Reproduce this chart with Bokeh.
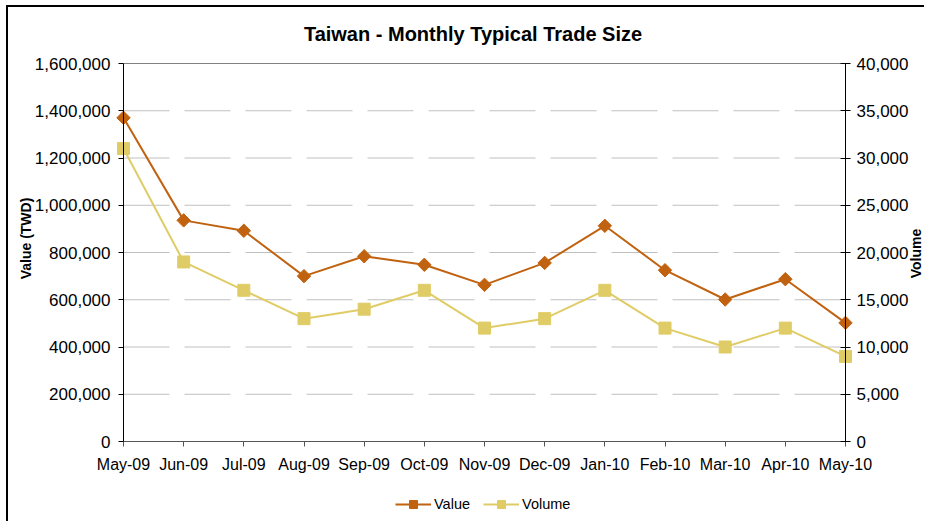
import numpy as np
from bokeh.plotting import figure
from bokeh.models import (Range1d, LinearAxis, FixedTicker, NumeralTickFormatter,
                          Legend, LegendItem, Label)
from bokeh.embed import file_html
from bokeh.resources import INLINE

months = ["May-09", "Jun-09", "Jul-09", "Aug-09", "Sep-09", "Oct-09", "Nov-09",
          "Dec-09", "Jan-10", "Feb-10", "Mar-10", "Apr-10", "May-10"]
value_twd = [1370000, 936000, 892000, 700000, 784000, 748000, 663000,
             756000, 913000, 725000, 601000, 687000, 502000]
volume = [31000, 19000, 16000, 13000, 14000, 16000, 12000,
          13000, 16000, 12000, 10000, 12000, 9000]
left_ticks = [0, 200000, 400000, 600000, 800000, 1000000, 1200000, 1400000, 1600000]
right_ticks = [0, 5000, 10000, 15000, 20000, 25000, 30000, 35000, 40000]
left_max = 1600000
right_max = 40000

x = list(range(len(months)))
VALUE_C = "#C0620F"
VOL_C = "#E0CC66"
FONT = "Liberation Sans"

# layout in canvas pixels (canvas is 918 x 516)
W, H = 918, 516
F_TOP, F_BOT = 5, 512            # frame edges
P_LEFT, P_RIGHT = 115, 837       # plot area left/right
P_TOP, P_ZERO = 56, 434          # plot area top (max) / bottom (zero)
ppy = (P_ZERO - P_TOP)
ppx = (P_RIGHT - P_LEFT) / (len(months) - 1)
y_lo = -(F_BOT - P_ZERO) / ppy
y_hi = 1 + (P_TOP - F_TOP) / ppy
x_lo = -P_LEFT / ppx
x_hi = (len(months) - 1) + (W - P_RIGHT) / ppx

p = figure(width=W, height=H, output_backend="svg", toolbar_location=None,
           x_range=Range1d(x_lo, x_hi),
           y_range=Range1d(left_max * y_lo, left_max * y_hi),
           min_border_left=0, min_border_right=0, min_border_top=F_TOP,
           min_border_bottom=H - F_BOT)
p.styles = {"margin-left": "6px", "margin-top": "5px",
            "border-left": "2px solid black", "border-top": "2px solid black"}
p.extra_y_ranges = {"vol": Range1d(right_max * y_lo, right_max * y_hi)}

p.outline_line_color = None
p.background_fill_color = "white"
p.border_fill_color = "white"
p.xgrid.visible = False
p.ygrid.visible = False

# dashed horizontal gridlines + solid top border of plot area
grid_y = left_ticks[1:-1]
p.segment(x0=[x[0]] * len(grid_y), x1=[x[-1]] * len(grid_y), y0=grid_y, y1=grid_y,
          line_color="#C0C0C0", line_width=1, line_dash="46 15")
p.segment(x0=[x[0]], x1=[x[-1]], y0=[left_max], y1=[left_max],
          line_color="#808080", line_width=1)

# x axis
xa = p.xaxis[0]
xa.fixed_location = 0
xa.bounds = (x[0], x[-1])
xa.ticker = FixedTicker(ticks=x)
xa.major_label_overrides = {i: m for i, m in enumerate(months)}
xa.major_label_text_font = FONT
xa.major_label_text_font_size = "16px"
xa.major_label_text_color = "black"
xa.axis_line_color = "#555555"
xa.major_tick_line_color = "#555555"
xa.major_tick_in = 0
xa.major_tick_out = 5
xa.minor_tick_line_color = None
xa.major_label_standoff = 9

# left axis
ya = p.yaxis[0]
ya.fixed_location = x[0]
ya.bounds = (0, left_max)
ya.ticker = FixedTicker(ticks=left_ticks)
ya.formatter = NumeralTickFormatter(format="0,0")
ya.major_label_text_font = FONT
ya.major_label_text_font_size = "17px"
ya.major_label_text_color = "black"
ya.axis_line_color = "black"
ya.major_tick_line_color = "black"
ya.major_tick_in = 0
ya.major_tick_out = 5
ya.minor_tick_line_color = None
ya.major_label_standoff = 8

# right axis
ra = LinearAxis(y_range_name="vol", ticker=FixedTicker(ticks=right_ticks),
                formatter=NumeralTickFormatter(format="0,0"),
                bounds=(0, right_max), fixed_location=x[-1])
ra.major_label_text_font = FONT
ra.major_label_text_font_size = "17px"
ra.major_label_text_color = "black"
ra.axis_line_color = "black"
ra.major_tick_line_color = "black"
ra.major_tick_in = 5
ra.major_tick_out = 5
ra.minor_tick_line_color = None
ra.major_label_standoff = 6
p.add_layout(ra, "right")

# titles (screen units: from frame's bottom-left corner, y upward)
fb = F_BOT  # frame bottom in canvas px
p.add_layout(Label(x=464.5, y=fb - 26, x_units="screen", y_units="screen",
                   text="Taiwan - Monthly Typical Trade Size", text_align="center",
                   text_baseline="middle", text_font=FONT, text_font_size="20px",
                   text_font_style="bold", text_color="black"))
p.add_layout(Label(x=17, y=fb - 231, x_units="screen", y_units="screen",
                   text="Value (TWD)", angle=np.pi / 2, text_align="center",
                   text_baseline="middle", text_font=FONT, text_font_size="14px",
                   text_font_style="bold", text_color="black"))
p.add_layout(Label(x=907, y=fb - 246, x_units="screen", y_units="screen",
                   text="Volume", angle=np.pi / 2, text_align="center",
                   text_baseline="middle", text_font=FONT, text_font_size="14px",
                   text_font_style="bold", text_color="black"))

# series
vl = p.line(x, value_twd, line_color=VALUE_C, line_width=2)
vs = p.scatter(x, value_twd, marker="square", angle=np.pi / 4, size=9.5,
               fill_color=VALUE_C, line_color=VALUE_C)
wl = p.line(x, volume, line_color=VOL_C, line_width=2, y_range_name="vol")
ws = p.scatter(x, volume, marker="square", size=12, fill_color=VOL_C,
               line_color=VOL_C, y_range_name="vol")

legend = Legend(items=[LegendItem(label="Value", renderers=[vl, vs]),
                       LegendItem(label="Volume", renderers=[wl, ws])],
                orientation="horizontal", location=(387, 5))
legend.padding = 0
legend.margin = 0
legend.spacing = 13
legend.glyph_width = 36
legend.glyph_height = 20
legend.label_height = 20
legend.label_standoff = 3
legend.label_text_font = FONT
legend.label_text_font_size = "14.5px"
legend.label_text_color = "black"
legend.border_line_color = None
legend.background_fill_alpha = 0
p.add_layout(legend, "center")

open("out.html", "w").write(file_html(p, INLINE))
